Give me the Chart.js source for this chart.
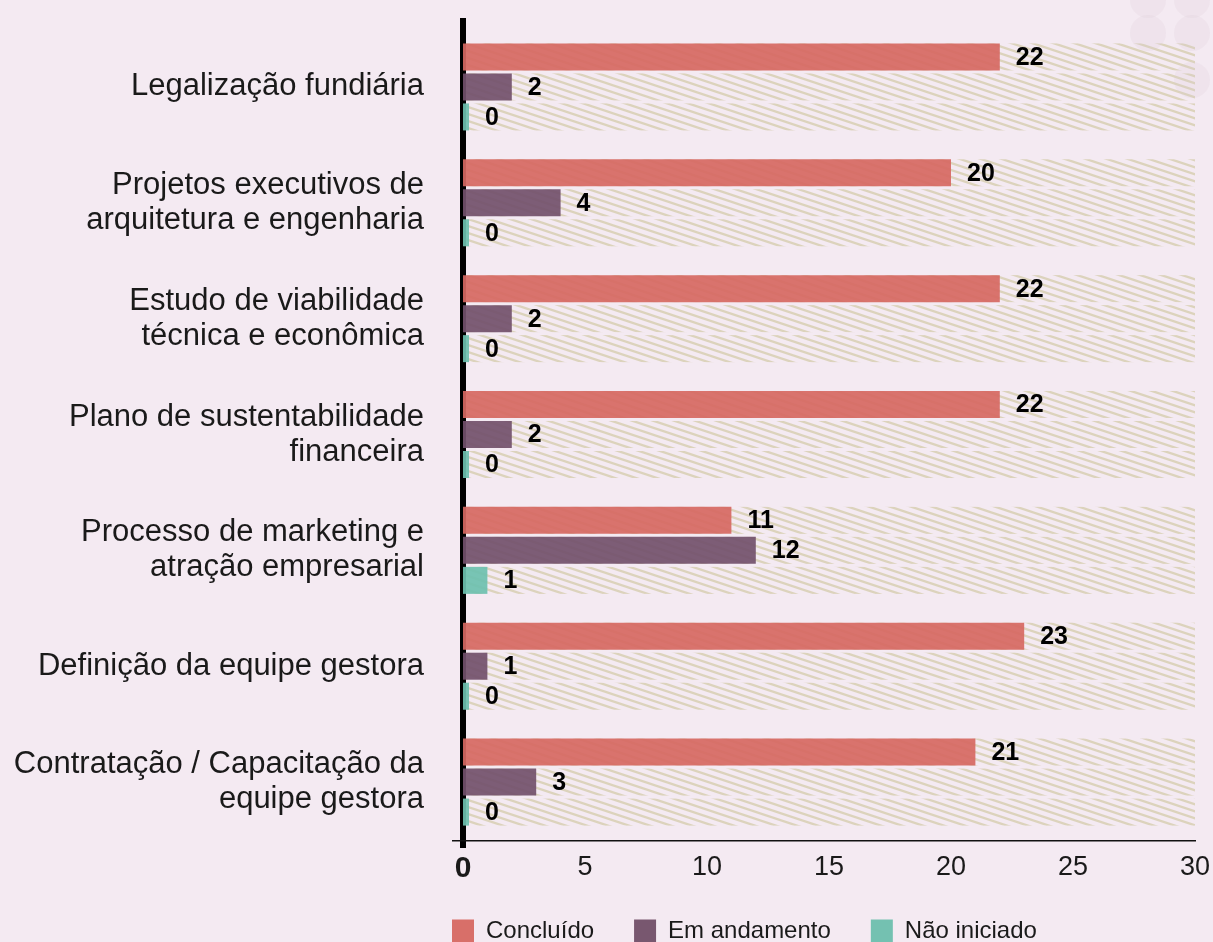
<!DOCTYPE html>
<html><head><meta charset="utf-8">
<script src="https://cdn.jsdelivr.net/npm/chart.js@4.4.1/dist/chart.umd.min.js"></script>
<style>html,body{margin:0;padding:0;background:#f4eaf2;}canvas{display:block;}</style>
</head><body>
<canvas id="c" width="1213" height="942" style="width:1213px;height:942px"></canvas>
<script>
const categories = [
  'Legalização fundiária',
  ['Projetos executivos de', 'arquitetura e engenharia'],
  ['Estudo de viabilidade', 'técnica e econômica'],
  ['Plano de sustentabilidade', 'financeira'],
  ['Processo de marketing e', 'atração empresarial'],
  'Definição da equipe gestora',
  ['Contratação / Capacitação da', 'equipe gestora']
];
const concluido   = [22, 20, 22, 22, 11, 23, 21];
const emAndamento = [2, 4, 2, 2, 12, 1, 3];
const naoIniciado = [0, 0, 0, 0, 1, 0, 0];
const seriesNames = ['Concluído', 'Em andamento', 'Não iniciado'];
const xMin = 0, xMax = 30, xStep = 5;

const BG = '#f4eaf2';
const FONT = '"Liberation Sans", Arial, Helvetica, sans-serif';
const colors = ['rgba(214,104,98,0.92)', 'rgba(114,80,107,0.92)', 'rgba(108,192,175,0.92)'];
const legendColors = ['#d86f69', '#78576f', '#74c1b1'];

function makeHatch() {
  const c = document.createElement('canvas');
  c.width = 21; c.height = 7;
  const g = c.getContext('2d');
  g.strokeStyle = '#dcd3bc';
  g.lineWidth = 2.3;
  for (let k = -2; k <= 2; k++) {
    g.beginPath();
    g.moveTo(-21, -7 + 7 * k);
    g.lineTo(42, 14 + 7 * k);
    g.stroke();
  }
  return g.createPattern(c, 'repeat');
}
const hatch = makeHatch();

const bgPlugin = {
  id: 'bg',
  beforeDraw(chart) {
    const ctx = chart.ctx;
    ctx.save();
    ctx.fillStyle = BG;
    ctx.fillRect(0, 0, chart.width, chart.height);
    ctx.restore();
  }
};

const trackPlugin = {
  id: 'tracks',
  beforeDatasetsDraw(chart) {
    const ctx = chart.ctx, xs = chart.scales.x, area = chart.chartArea;
    const x0 = xs.getPixelForValue(xMin), x1 = xs.getPixelForValue(xMax);
    ctx.save();
    ctx.fillStyle = hatch;
    chart.data.datasets.forEach((ds, i) => {
      chart.getDatasetMeta(i).data.forEach(bar => {
        const h = bar.height;
        ctx.fillRect(x0, bar.y - h / 2, x1 - x0, h);
      });
    });
    // thick zero axis
    ctx.fillStyle = '#000';
    ctx.fillRect(x0 - 3, area.top - 11, 6, area.bottom - area.top + 19);
    ctx.restore();
  },
  afterDatasetsDraw(chart) {
    const ctx = chart.ctx, xs = chart.scales.x, area = chart.chartArea;
    const x0 = xs.getPixelForValue(xMin), x1 = xs.getPixelForValue(xMax);
    ctx.save();
    // bottom axis line
    ctx.fillStyle = '#111';
    ctx.fillRect(x0 - 11, area.bottom, x1 - x0 + 12, 1.5);
    // value labels
    ctx.fillStyle = '#000';
    ctx.font = 'bold 25px ' + FONT;
    ctx.textAlign = 'left';
    ctx.textBaseline = 'middle';
    chart.data.datasets.forEach((ds, i) => {
      chart.getDatasetMeta(i).data.forEach((bar, j) => {
        ctx.fillText(String(ds.data[j]), bar.x + 16, bar.y + 1);
      });
    });
    ctx.restore();
  },
  afterDraw(chart) {
    // decorative dots, top right
    const ctx = chart.ctx, w = chart.width;
    ctx.save();
    ctx.fillStyle = 'rgba(215,198,212,0.18)';
    [[w - 65, 0], [w - 21, 0], [w - 65, 33], [w - 21, 33], [w - 21, 80]].forEach(([cx, cy]) => {
      ctx.beginPath(); ctx.arc(cx, cy, 18, 0, Math.PI * 2); ctx.fill();
    });
    ctx.restore();
  },
  afterLayout(chart) {
    if (chart.legend) {
      const dx = 51, dy = -21;
      chart.legend.left -= dx;
      chart.legend.right -= dx;
      chart.legend.top += dy;
      chart.legend.bottom += dy;
    }
  }
};

new Chart(document.getElementById('c'), {
  type: 'bar',
  data: {
    labels: categories,
    datasets: [
      { label: seriesNames[0], data: concluido, backgroundColor: colors[0] },
      { label: seriesNames[1], data: emAndamento, backgroundColor: colors[1] },
      { label: seriesNames[2], data: naoIniciado, backgroundColor: colors[2] }
    ]
  },
  options: {
    indexAxis: 'y',
    responsive: false,
    animation: false,
    devicePixelRatio: 1,
    datasets: { bar: { barPercentage: 0.9, categoryPercentage: 0.777, minBarLength: 6, borderWidth: 0 } },
    layout: { padding: { top: 29, right: 18, left: 0, bottom: -32 } },
    scales: {
      x: {
        min: xMin, max: xMax,
        grid: { display: false, drawTicks: false },
        border: { display: false },
        ticks: {
          stepSize: xStep,
          padding: 11,
          color: '#1a1a1a',
          font: ctx => (ctx.tick && ctx.tick.value === 0)
            ? { family: FONT, size: 30, weight: 'bold' }
            : { family: FONT, size: 27, weight: 'normal' }
        },
        afterFit(scale) { scale.height = 60; scale.paddingLeft = 0; scale.paddingRight = 0; }
      },
      y: {
        grid: { display: false, drawTicks: false },
        border: { display: false },
        ticks: {
          padding: 39,
          color: '#1a1a1a',
          font: { family: FONT, size: 31, lineHeight: 1.13 }
        },
        afterFit(scale) { scale.width = 463; scale.paddingTop = 0; scale.paddingBottom = 0; }
      }
    },
    plugins: {
      legend: {
        position: 'bottom',
        fullSize: false,
        align: 'start',
        labels: {
          boxWidth: 22, boxHeight: 23, padding: 40,
          color: '#1a1a1a',
          font: { family: FONT, size: 24 },
          generateLabels(chart) {
            return chart.data.datasets.map((ds, i) => ({
              text: ds.label, fillStyle: legendColors[i], strokeStyle: legendColors[i],
              lineWidth: 0, datasetIndex: i, hidden: false, fontColor: '#1a1a1a'
            }));
          }
        }
      },
      tooltip: { enabled: false }
    }
  },
  plugins: [bgPlugin, trackPlugin]
});
</script>
</body></html>
